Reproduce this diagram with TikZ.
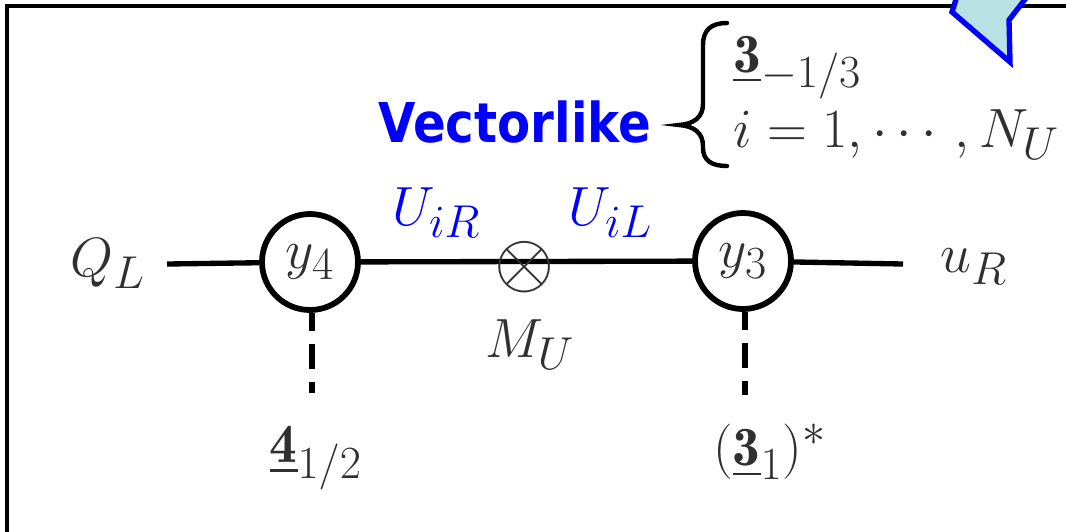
\RequirePackage{fix-cm}
\documentclass[tikz,border=0pt]{standalone}
\usepackage{amsmath}
\usepackage{fontspec}
\newfontfamily\vecfont[FakeStretch=0.88]{DejaVu Sans}
\definecolor{calloutfill}{HTML}{B9E0E3}
\definecolor{txtgray}{HTML}{303030}
\tikzset{
  lbl/.style={text=txtgray, inner sep=0pt, font=\Huge},
  bluelbl/.style={text=blue, inner sep=0pt, font=\Huge},
  vertex/.style={circle, draw=black, line width=2.6pt, minimum size=43.2pt, inner sep=0pt, text=txtgray, font=\Huge},
  prop/.style={line width=2.4pt, draw=black},
  scalar/.style={line width=2.4pt, draw=black, dash pattern=on 11.25pt off 5.85pt, dash phase=3.15pt},
}
\begin{document}
\begin{tikzpicture}[x=0.45pt,y=-0.45pt]
\useasboundingbox (0,0) rectangle (1066,531);
\begin{scope}
\clip (0,0) rectangle (1066,531);
% frame
\draw[line width=2pt] (7,560) -- (7,6) -- (1080,6);
% callout pointer
\draw[line width=2.4pt, draw=blue, fill=calloutfill, line join=miter]
  (962,-20) -- (952,12) -- (1010,62) -- (1009,20) -- (1040,-20);
\end{scope}
% main nodes
\node[vertex] (y4) at (310,262) {$y_4$};
\node[vertex] (y3) at (743,261) {$y_3$};
\node[lbl, anchor=base west] (QL) at (70,276) {$Q_L$};
\node[lbl, anchor=base west] (uR) at (940,272) {$u_R$};
\coordinate (qend) at (167,264);
\coordinate (uend) at (903,264);
\draw[prop] (qend) -- (y4);
\draw[prop] (y4) -- (y3);
\draw[prop] (y3) -- (uend);
\node[text=txtgray, inner sep=0pt, font=\Huge] (mass) at (525,267) {\scalebox{1.4}{$\otimes$}};
\node[lbl, anchor=base west] (MU) at (485,357) {$M_U$};
\node[bluelbl, anchor=base west] (UR) at (392,225) {$U_{iR}$};
\node[bluelbl, anchor=base west] (UL) at (568,225) {$U_{iL}$};
% scalar legs
\coordinate (s4) at (312,393);
\coordinate (s3) at (745,395);
\draw[scalar] (y4.south -| s4) -- (s4);
\draw[scalar] (y3.south -| s3) -- (s3);
\node[lbl] (H4) at (316,458) {$\underline{\mathbf{4}}_{1/2}$};
\node[lbl] (H3) at (770,452) {$(\underline{\mathbf{3}}_{1})^{*}$};
% vectorlike
\node[text=blue, inner sep=0pt, anchor=base west, font=\vecfont\bfseries\fontsize{24.7}{28}\selectfont] (VL) at (378,142) {Vectorlike};
\draw[line width=2pt, line cap=round] (727,23) .. controls (711,23) and (703,30) .. (703,45) -- (703,104) .. controls (703,117) and (694,124) .. (679,125) .. controls (694,126) and (703,133) .. (703,146) -- (703,148) .. controls (703,160) and (711,166) .. (727,166);
\node[lbl, anchor=base west] (rep) at (733,72) {$\underline{\mathbf{3}}_{-1/3}$};
\node[lbl, anchor=base west] (idx) at (733,147) {$i=1,\cdots,N_U$};
\end{tikzpicture}
\end{document}
